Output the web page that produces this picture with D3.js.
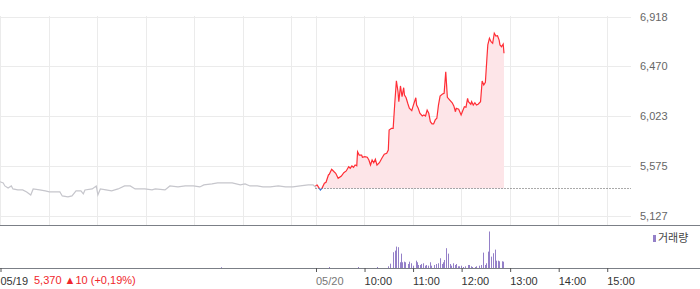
<!DOCTYPE html>
<html>
<head>
<meta charset="utf-8">
<script src="https://cdn.jsdelivr.net/npm/d3@7"></script>
<style>
body { margin: 0; background: #fff; }
svg text { font-family: "Liberation Sans", "Noto Sans CJK KR", sans-serif; font-size: 11px; }
</style>
</head>
<body>
<div id="chart"></div>
<script>
var w = 700, h = 289;

// 05/19 (previous day) intraday prices
var day1Times = ["09:00","09:04","09:06","09:10","09:14","09:16","09:22","09:28","09:33","09:38","09:41","09:49","09:56","10:01","10:08","10:14","10:17","10:24","10:29","10:34","10:40","10:43","10:45","10:54","10:59","11:01","11:04","11:11","11:18","11:26","11:34","11:41","11:47","11:59","12:08","12:12","12:24","12:30","12:40","12:49","12:59","13:07","13:12","13:22","13:29","13:38","13:47","13:57","14:03","14:09","14:18","14:25","14:34","14:44","14:53","15:02","15:11","15:21","15:27","15:30"];
var day1Prices = [5431,5420,5393,5375,5393,5366,5357,5357,5339,5312,5366,5357,5348,5339,5339,5339,5303,5294,5303,5348,5348,5321,5357,5366,5393,5312,5366,5357,5348,5366,5393,5393,5366,5366,5357,5366,5357,5393,5384,5393,5393,5384,5402,5411,5420,5420,5420,5402,5411,5393,5393,5384,5384,5393,5384,5384,5393,5402,5402,5384];

// 05/20 intraday prices
var day2Times = ["09:00","09:02","09:06","09:08","09:11","09:13","09:16","09:17","09:20","09:23","09:25","09:28","09:32","09:35","09:38","09:41","09:43","09:45","09:47","09:49","09:51","09:52","09:54","09:57","09:58","10:01","10:04","10:06","10:08","10:10","10:12","10:14","10:16","10:19","10:22","10:25","10:28","10:30","10:31","10:34","10:36","10:38","10:40","10:42","10:43","10:45","10:47","10:49","10:50","10:52","10:54","10:56","10:59","11:01","11:04","11:05","11:07","11:09","11:12","11:14","11:16","11:18","11:20","11:22","11:24","11:26","11:28","11:30","11:32","11:34","11:37","11:39","11:41","11:43","11:46","11:49","11:51","11:53","11:54","11:57","12:00","12:02","12:04","12:06","12:08","12:09","12:12","12:13","12:15","12:17","12:19","12:21","12:24","12:26","12:28","12:30","12:32","12:33","12:35","12:37","12:39","12:41","12:43","12:45","12:47","12:48","12:50","12:52","12:53"];
var day2Prices = [5395,5402,5357,5372,5417,5426,5492,5498,5543,5521,5507,5462,5482,5512,5528,5566,5552,5573,5561,5582,5575,5701,5671,5671,5651,5656,5651,5626,5581,5626,5602,5633,5581,5602,5642,5678,5687,5716,5896,5912,5912,6137,6340,6241,6151,6293,6196,6277,6211,6187,6137,6092,6070,6121,6187,6121,6092,6047,6023,6032,6023,6076,6047,5971,5951,5951,5987,6002,6121,6202,6220,6227,6421,6191,6166,6142,6113,6061,6092,6083,6032,6070,6106,6101,6182,6151,6128,6151,6121,6142,6121,6128,6151,6338,6302,6326,6556,6662,6722,6691,6677,6767,6742,6745,6706,6662,6646,6670,6587];

// volume (shares)
var volDays = [0,1,1,1,1,1,1,1,1,1,1,1,1,1,1,1,1,1,1,1,1,1,1,1,1,1,1,1,1,1,1,1,1,1,1,1,1,1,1,1,1,1,1,1,1,1,1,1,1,1,1,1,1,1,1,1,1,1,1,1,1,1,1,1,1,1,1,1,1,1,1];
var volTimes = ["13:33","09:17","09:53","10:16","10:30","10:32","10:36","10:38","10:40","10:42","10:44","10:46","10:47","10:49","10:51","10:54","10:55","10:58","11:01","11:04","11:05","11:07","11:09","11:11","11:13","11:15","11:17","11:19","11:21","11:23","11:26","11:27","11:29","11:31","11:34","11:36","11:37","11:39","11:41","11:44","11:46","11:48","11:50","11:52","11:54","11:56","11:58","12:00","12:02","12:05","12:08","12:10","12:12","12:14","12:17","12:19","12:22","12:24","12:27","12:29","12:31","12:33","12:35","12:37","12:39","12:42","12:43","12:45","12:47","12:50","12:52"];
var volumes = [8000,10000,10000,10000,17000,43000,157000,173000,213000,207000,57000,143000,57000,63000,57000,40000,63000,47000,23000,73000,57000,30000,30000,40000,47000,23000,30000,23000,57000,23000,30000,23000,40000,47000,97000,40000,57000,80000,197000,143000,40000,23000,47000,30000,40000,17000,17000,23000,10000,17000,30000,30000,17000,10000,10000,17000,23000,30000,153000,30000,47000,163000,363000,113000,147000,183000,73000,73000,67000,67000,63000];

var prevClose = 5370;
var priceTicks = [5127, 5575, 6023, 6470, 6918];
var hourTicks = ["09:00","10:00","11:00","12:00","13:00","14:00","15:00"];
var day2Labels = ["05/20","10:00","11:00","12:00","13:00","14:00","15:00"];

function idx(day, t) {
    var p = t.split(":");
    return day * 390 + (+p[0] - 9) * 60 + (+p[1]);
}

var svg = d3.select("#chart")
.append("svg")
.attr("width", w)
.attr("height", h);

var x = d3.scaleLinear().domain([0, 780]).range([0, 631]);
var y = d3.scaleLinear().domain([5127, 6918]).range([215.5, 16.5]);
var yv = d3.scaleLinear().domain([0, 363000]).range([268, 231.5]);

// grid
svg.selectAll(".hgrid")
.data(priceTicks)
.enter()
.append("line")
.attr("x1", 0).attr("x2", 631)
.attr("y1", function(d) {return Math.round(y(d)) + 0.5;})
.attr("y2", function(d) {return Math.round(y(d)) + 0.5;})
.attr("stroke", "#ebebeb");

var vgrid = [];
hourTicks.forEach(function(t) { vgrid.push(idx(0, t)); vgrid.push(idx(1, t)); });
svg.selectAll(".vgrid")
.data(vgrid)
.enter()
.append("line")
.attr("x1", function(d) {return Math.round(x(d)) + 0.5;})
.attr("x2", function(d) {return Math.round(x(d)) + 0.5;})
.attr("y1", 16).attr("y2", 225)
.attr("stroke", "#ebebeb");

var d1 = day1Times.map(function(t, i) {return {i: idx(0, t), v: day1Prices[i]};});
var d2 = day2Times.map(function(t, i) {return {i: idx(1, t), v: day2Prices[i]};});

var baseY = y(prevClose);

svg.append("clipPath").attr("id", "above")
.append("rect").attr("x", 0).attr("y", 0).attr("width", w).attr("height", baseY);
svg.append("clipPath").attr("id", "below")
.append("rect").attr("x", 0).attr("y", baseY).attr("width", w).attr("height", h - baseY);

var area = d3.area()
.x(function(d) {return x(d.i);})
.y0(baseY)
.y1(function(d) {return y(d.v);});

var line = d3.line()
.x(function(d) {return x(d.i);})
.y(function(d) {return y(d.v);});

svg.append("path").datum(d2).attr("d", area)
.attr("fill", "#fde5e8").attr("clip-path", "url(#above)");
svg.append("path").datum(d2).attr("d", area)
.attr("fill", "#e3ecf9").attr("clip-path", "url(#below)");

// previous close dotted line
svg.append("line")
.attr("x1", x(idx(1, "09:00"))).attr("x2", 631)
.attr("y1", Math.round(baseY) + 0.5).attr("y2", Math.round(baseY) + 0.5)
.attr("stroke", "#555")
.attr("stroke-dasharray", "1,2");

svg.append("path").datum(d1.concat([d2[0]])).attr("d", line)
.attr("fill", "none").attr("stroke", "#c6c6cc").attr("stroke-width", 1.2);

svg.append("path").datum(d2).attr("d", line)
.attr("fill", "none").attr("stroke", "#ff2e36").attr("stroke-width", 1.2)
.attr("clip-path", "url(#above)");
svg.append("path").datum(d2).attr("d", line)
.attr("fill", "none").attr("stroke", "#2f74d8").attr("stroke-width", 1.2)
.attr("clip-path", "url(#below)");

// right price labels
var yAxis = d3.axisRight(y).tickValues(priceTicks).tickSize(0).tickPadding(0)
.tickFormat(d3.format(","));
var ya = svg.append("g").attr("transform", "translate(640,0)").call(yAxis);
ya.select(".domain").remove();
ya.selectAll("text").attr("fill", "#666").style("font-size", "11px");

// panel lines
svg.append("line").attr("x1", 0).attr("x2", w).attr("y1", 225.5).attr("y2", 225.5)
.attr("stroke", "#7b7f86");
svg.append("line").attr("x1", 0).attr("x2", w).attr("y1", 268.5).attr("y2", 268.5)
.attr("stroke", "#7b7f86");

// volume bars
var vol = volTimes.map(function(t, i) {return {i: idx(volDays[i], t), v: volumes[i]};});
svg.selectAll(".vbar")
.data(vol)
.enter()
.append("rect")
.attr("class", "vbar")
.attr("x", function(d) {return Math.round(x(d.i));})
.attr("y", function(d) {return yv(d.v);})
.attr("width", 1)
.attr("height", function(d) {return 268 - yv(d.v);})
.attr("fill", "#9480c8");

// legend
svg.append("rect").attr("x", 653).attr("y", 235).attr("width", 3).attr("height", 7).attr("fill", "#9480c8");
svg.append("text").attr("x", 658).attr("y", 242).text("거래량").attr("fill", "#444").style("font-size", "11px");

// bottom time axis
var xTicks = [idx(0, "09:00")].concat(hourTicks.map(function(t) {return idx(1, t);}));
var xLabels = ["05/19"].concat(day2Labels);
var xAxis = d3.axisBottom(x).tickValues(xTicks).tickSize(4).tickPadding(4)
.tickFormat(function(d, i) {return xLabels[i];});
var xa = svg.append("g").attr("transform", "translate(0.5,268)").call(xAxis);
xa.select(".domain").remove();
xa.selectAll("line").attr("stroke", "#555");
xa.selectAll("text").attr("text-anchor", "start").attr("x", -0.5).attr("dy", "0.8em")
.attr("fill", function(d, i) {return i == 1 ? "#777" : "#333";}).style("font-size", "11px");

// previous day summary
var info = svg.append("text").attr("x", 34).attr("y", 284).attr("fill", "#f0262c").style("font-size", "11px");
info.append("tspan").text("5,370 ");
info.append("tspan").text("▲").style("font-size", "11px");
info.append("tspan").text("10 (+0,19%)");
</script>
</body>
</html>
